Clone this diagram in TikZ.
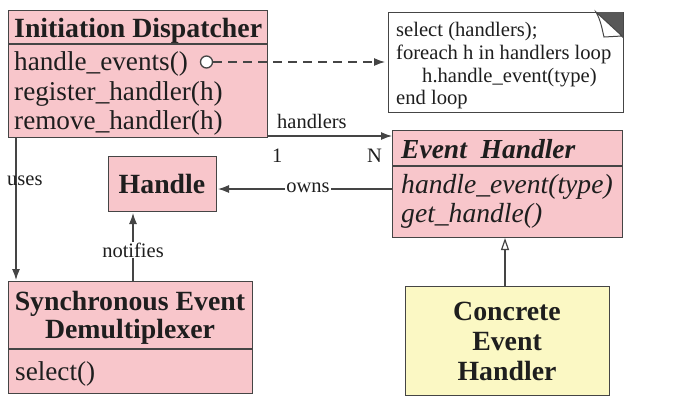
\documentclass[tikz,border=0pt]{standalone}
\usepackage{fontspec}
\setmainfont{Liberation Serif}
\usetikzlibrary{arrows.meta}
\definecolor{pinkfill}{HTML}{F8C6CB}
\definecolor{yellowfill}{HTML}{FBF8C4}
\definecolor{edge}{HTML}{454545}
\definecolor{txt}{HTML}{1E1E1E}
\begin{document}
\begin{tikzpicture}[x=1pt,y=-1pt,
  box/.style={draw=edge, line width=1.3pt, fill=pinkfill, inner sep=0pt, anchor=north west},
  ybox/.style={box, fill=yellowfill},
  notebox/.style={box, fill=white},
  lbl/.style={anchor=base west, inner sep=0pt, text=txt},
  clbl/.style={anchor=base, inner sep=0pt, text=txt},
  titlef/.style={font=\fontsize{27.8}{32}\selectfont\bfseries},
  bodyf/.style={font=\fontsize{27.2}{32}\selectfont},
  itf/.style={font=\fontsize{27.6}{32}\selectfont\itshape},
  notef/.style={font=\fontsize{20.6}{24}\selectfont},
  smallf/.style={font=\fontsize{20.5}{24}\selectfont},
  conn/.style={draw=edge, line width=1.2pt},
  arr/.style={conn, -{Latex[length=11pt,width=8pt]}},
  dasharr/.style={arr, dash pattern=on 9pt off 6pt},
  inh/.style={conn, -{Triangle[open,length=12pt,width=8pt,fill=white]}}
]
\useasboundingbox[fill=white] (0,0) rectangle (687,407);

% Initiation Dispatcher
\node[box, minimum width=259pt, minimum height=127pt] (disp) at (8,10) {};
\draw[conn] (disp.west |- 0,44) -- (disp.east |- 0,44);
\node[lbl, titlef] (dispT) at (14,37) {Initiation Dispatcher};
\node[lbl, bodyf] (disp1) at (14,70) {handle\_events()};
\node[lbl, bodyf] (disp2) at (14,100) {register\_handler(h)};
\node[lbl, bodyf] (disp3) at (14,129) {remove\_handler(h)};
\node[circle, draw=edge, fill=white, line width=1.3pt, minimum size=12pt, inner sep=0pt] (circ) at (206.5,62) {};

% Note
\node[notebox, minimum width=235pt, minimum height=100pt] (note) at (388,12) {};
\fill[edge!90] (596,12) -- (623,12) -- (623,38) -- cycle;
\filldraw[fill=white, draw=edge, line width=1pt] (596,12) -- (622,36) -- (604,37) .. controls (602,29) and (601,21) .. (596,12) -- cycle;
\node[lbl, notef] (n1) at (396,36) {select (handlers);};
\node[lbl, notef] (n2) at (396,59) {foreach h in handlers loop};
\node[lbl, notef] (n3) at (422,82) {h.handle\_event(type)};
\node[lbl, notef] (n4) at (396,104) {end loop};

% Event Handler
\node[box, minimum width=230pt, minimum height=107pt] (eh) at (392,130) {};
\draw[conn] (eh.west |- 0,166) -- (eh.east |- 0,166);
\node[lbl, font=\fontsize{27.5}{32}\selectfont\bfseries\itshape] (ehT) at (401,158) {Event\ \ Handler};
\node[lbl, itf] (eh1) at (401,193) {handle\_event(type)};
\node[lbl, itf] (eh2) at (401,222) {get\_handle()};

% Handle
\node[box, minimum width=108pt, minimum height=55pt] (hdl) at (108,156) {};
\node[clbl, titlef] (hdlT) at (162,193) {Handle};

% Synchronous Event Demultiplexer
\node[box, minimum width=244pt, minimum height=112pt] (sync) at (8,281) {};
\draw[conn] (sync.west |- 0,349) -- (sync.east |- 0,349);
\node[clbl, titlef] (syncT1) at (130,310) {Synchronous Event};
\node[clbl, titlef] (syncT2) at (130,338) {Demultiplexer};
\node[lbl, bodyf] (sync1) at (15,380) {select()};

% Concrete Event Handler
\node[ybox, minimum width=204pt, minimum height=109pt] (conc) at (405,286) {};
\node[clbl, titlef] (concT1) at (507,320) {Concrete};
\node[clbl, titlef] (concT2) at (507,350) {Event};
\node[clbl, titlef] (concT3) at (507,380) {Handler};

% Connectors
\coordinate (dashEnd) at (385,62);
\draw[dasharr] (circ.east) -- (dashEnd);

\coordinate (hs) at (267,136);
\coordinate (he) at (392,136);
\draw[arr] (hs) -- (he);
\node[lbl, smallf] (hlbl) at (277,128) {handlers};
\node[lbl, smallf] (one) at (272,162) {1};
\node[lbl, smallf] (enn) at (367,162) {N};

\coordinate (os) at (392,189);
\coordinate (oe) at (218,189);
\draw[arr] (os) -- (oe);
\node[smallf, fill=white, inner sep=1pt, text=txt] (owns) at (308,188) {owns};

\coordinate (us) at (16,137);
\coordinate (ue) at (16,280);
\draw[arr] (us) -- (ue);
\node[lbl, smallf] (uses) at (7,185) {uses};

\coordinate (ns) at (133,281);
\coordinate (ne) at (133,213);
\draw[arr] (ns) -- (ne);
\node[smallf, fill=white, inner sep=1pt, text=txt] (notif) at (133,250) {notifies};

\coordinate (is) at (505,286);
\coordinate (ie) at (505,238);
\draw[inh] (is) -- (ie);
\end{tikzpicture}
\end{document}
